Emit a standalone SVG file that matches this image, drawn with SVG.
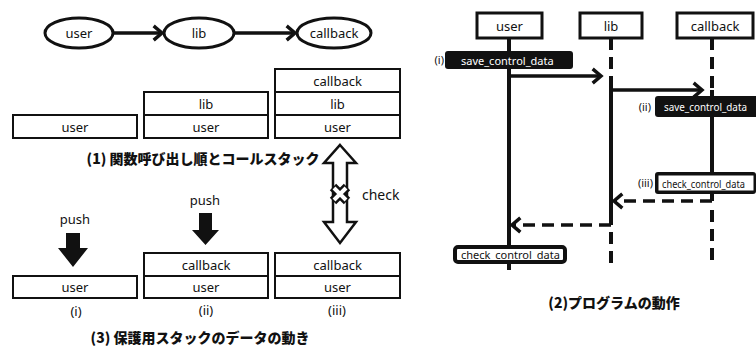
<svg xmlns="http://www.w3.org/2000/svg" width="756" height="351" viewBox="0 0 756 351">
  <style>
    text { font-family: "Noto Sans", "Noto Sans CJK JP", sans-serif; fill: #111; }
    .lbl { font-size: 13px; text-anchor: middle; dominant-baseline: central; }
    .title { font-family: "Noto Sans CJK JP", sans-serif; font-weight: 900; font-size: 14px; text-anchor: middle; dominant-baseline: central; }
    .node ellipse { fill: #fff; stroke: #111; stroke-width: 3; }
    .stack rect { fill: #fff; stroke: #111; stroke-width: 2; }
    .edge { fill: none; stroke: #111; stroke-width: 3.5; stroke-linejoin: miter; }
    .head { fill: none; stroke: #111; stroke-width: 3.5; stroke-linecap: square; }
    .life { fill: none; stroke: #111; stroke-width: 4; }
    .dash { stroke-dasharray: 12 7; }
    .actor rect { fill: #fff; stroke: #111; stroke-width: 3; }
    .blk { fill: #111; }
    .wlbl { font-size: 11px; fill: #fff; dominant-baseline: central; }
    .bl { font-size: 11px; dominant-baseline: central; }
    .tag { font-size: 11px; dominant-baseline: central; text-anchor: end; }
  </style>

  <!-- (1) call order -->
  <g id="call-user" class="node"><ellipse cx="79" cy="33" rx="34" ry="15"/><text class="lbl" x="79" y="33">user</text></g>
  <g id="call-lib" class="node"><ellipse cx="199" cy="33" rx="35" ry="15"/><text class="lbl" x="199" y="33">lib</text></g>
  <g id="call-callback" class="node"><ellipse cx="334" cy="33" rx="37" ry="15"/><text class="lbl" x="334" y="33">callback</text></g>
  <g id="call-edges">
    <line class="edge" x1="113" y1="33" x2="162" y2="33"/>
    <polyline class="head" points="155,27 162,33 155,39"/>
    <line class="edge" x1="234" y1="33" x2="295" y2="33"/>
    <polyline class="head" points="288,27 295,33 288,39"/>
  </g>

  <!-- (1) call stacks -->
  <g id="stack1-a" class="stack"><rect x="13" y="115" width="124" height="23"/><text class="lbl" x="75" y="126.5">user</text></g>
  <g id="stack1-b" class="stack">
    <rect x="144" y="92" width="124" height="23"/><text class="lbl" x="206" y="103.5">lib</text>
    <rect x="144" y="115" width="124" height="23"/><text class="lbl" x="206" y="126.5">user</text>
  </g>
  <g id="stack1-c" class="stack">
    <rect x="275" y="69" width="125" height="23"/><text class="lbl" x="337.5" y="80.5">callback</text>
    <rect x="275" y="92" width="125" height="23"/><text class="lbl" x="337.5" y="103.5">lib</text>
    <rect x="275" y="115" width="125" height="23"/><text class="lbl" x="337.5" y="126.5">user</text>
  </g>
  <text class="title" x="203" y="158">(1) 関数呼び出し順とコールスタック</text>

  <!-- check double arrow -->
  <g id="check">
    <path d="M340,145 L356,163 L347,163 L347,222 L356,222 L340,243 L324,222 L333,222 L333,163 L324,163 Z" fill="#fff" stroke="#111" stroke-width="2.5"/>
    <path d="M333,187 L347,201 M347,187 L333,201" stroke="#111" stroke-width="9" stroke-linecap="butt"/>
    <path d="M334,188 L346,200 M346,188 L334,200" stroke="#fff" stroke-width="4"/>
    <text x="362" y="194" font-size="14" dominant-baseline="central">check</text>
  </g>

  <!-- (3) protected stack -->
  <g id="push1">
    <text class="lbl" x="75" y="219" font-size="14">push</text>
    <path d="M66,233 H80 V248 H88 L73,267 L58,248 H66 Z" fill="#111"/>
  </g>
  <g id="push2">
    <text class="lbl" x="205" y="200" font-size="14">push</text>
    <path d="M199,213 H212 V230 H219 L205.5,245 L192,230 H199 Z" fill="#111"/>
  </g>
  <g id="stack3-a" class="stack"><rect x="13" y="276" width="124" height="22"/><text class="lbl" x="75" y="287">user</text></g>
  <g id="stack3-b" class="stack">
    <rect x="144" y="253" width="124" height="23"/><text class="lbl" x="206" y="264.5">callback</text>
    <rect x="144" y="276" width="124" height="22"/><text class="lbl" x="206" y="287">user</text>
  </g>
  <g id="stack3-c" class="stack">
    <rect x="275" y="253" width="125" height="23"/><text class="lbl" x="337.5" y="264.5">callback</text>
    <rect x="275" y="276" width="125" height="22"/><text class="lbl" x="337.5" y="287">user</text>
  </g>
  <text class="lbl" x="76" y="311" font-size="12">(i)</text>
  <text class="lbl" x="206" y="310" font-size="12">(ii)</text>
  <text class="lbl" x="337" y="310" font-size="12">(iii)</text>
  <text class="title" x="200" y="337">(3) 保護用スタックのデータの動き</text>

  <!-- (2) sequence -->
  <g id="lifelines">
    <line class="life" x1="509" y1="38" x2="509" y2="270"/>
    <line class="life dash" x1="611" y1="38" x2="611" y2="76"/>
    <line class="life" x1="611" y1="76" x2="611" y2="225"/>
    <line class="life dash" x1="611" y1="232" x2="611" y2="266"/>
    <line class="life dash" x1="712" y1="38" x2="712" y2="90"/>
    <line class="life" x1="712" y1="90" x2="712" y2="201"/>
    <line class="life dash" x1="712" y1="210" x2="712" y2="266"/>
  </g>
  <g id="actor-user" class="actor"><rect x="477" y="13" width="65" height="25"/><text class="lbl" x="509.5" y="25.5" font-size="14">user</text></g>
  <g id="actor-lib" class="actor"><rect x="580" y="13" width="62" height="25"/><text class="lbl" x="611" y="25.5" font-size="14">lib</text></g>
  <g id="actor-callback" class="actor"><rect x="677" y="13" width="76" height="25"/><text class="lbl" x="715" y="25.5" font-size="14">callback</text></g>

  <g id="messages">
    <line class="edge" x1="509" y1="76" x2="601" y2="76"/>
    <polyline class="head" points="594,70 601,76 594,82"/>
    <line class="edge" x1="611" y1="90" x2="702" y2="90"/>
    <polyline class="head" points="695,84 702,90 695,96"/>
    <polyline class="edge dash" points="712,201 616,201"/>
    <polyline class="head" points="621,195 614,201 621,207"/>
    <polyline class="edge dash" points="611,225 514,225"/>
    <polyline class="head" points="519,219 512,225 519,231"/>
  </g>

  <g id="note-i">
    <text class="tag" x="444" y="59">(i)</text>
    <rect class="blk" x="445" y="51" width="128" height="18" rx="3"/>
    <text class="wlbl" x="461" y="60">save_control_data</text>
  </g>
  <g id="note-ii">
    <text class="tag" x="651" y="106">(ii)</text>
    <rect class="blk" x="655" y="96" width="110" height="21" rx="3"/>
    <text class="wlbl" x="664" y="106.5" textLength="83" lengthAdjust="spacingAndGlyphs">save_control_data</text>
  </g>
  <g id="note-iii">
    <text class="tag" x="653" y="182">(iii)</text>
    <rect class="blk" x="655" y="172" width="101" height="22" rx="3"/>
    <rect x="658.5" y="175.5" width="95" height="15" fill="#fff"/>
    <text class="bl" x="662" y="183" font-size="10" textLength="83" lengthAdjust="spacingAndGlyphs">check_control_data</text>
  </g>
  <g id="note-check">
    <rect x="455" y="247" width="110" height="15" rx="3" fill="#fff" stroke="#111" stroke-width="4"/>
    <text class="bl" x="461" y="254.5" font-size="10.5">check_control_data</text>
  </g>
  <text class="title" x="614" y="302">(2)プログラムの動作</text>
</svg>
